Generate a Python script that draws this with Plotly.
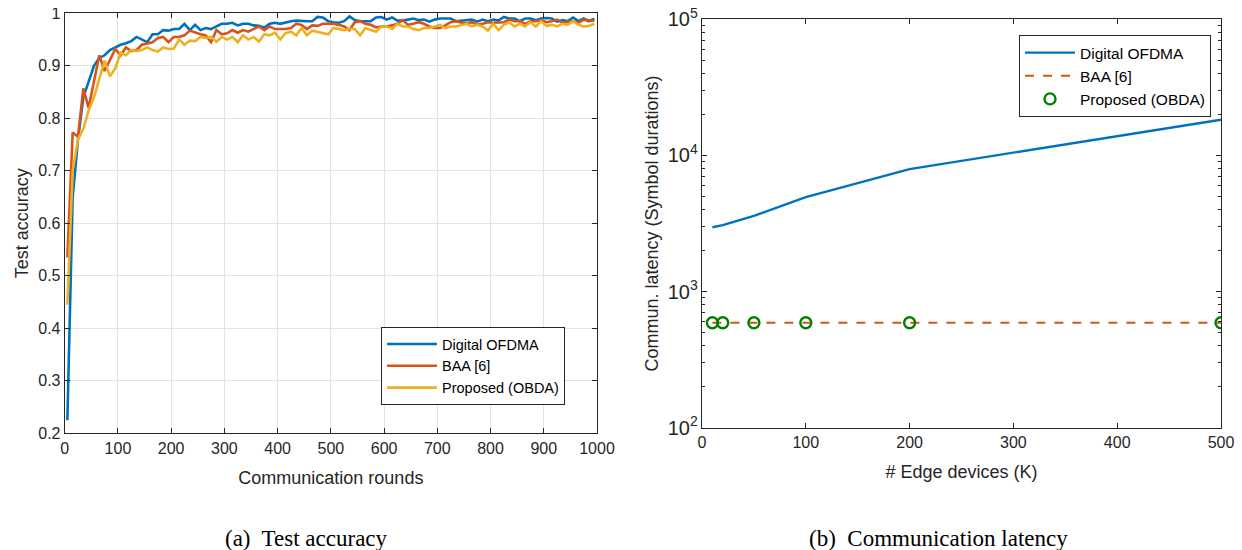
import plotly.graph_objects as go

rounds = list(range(5, 1000, 10))

acc_digital = [0.225, 0.65, 0.76, 0.84, 0.87, 0.90, 0.915, 0.92, 0.93, 0.935,
               0.94, 0.943, 0.947, 0.955, 0.95, 0.945, 0.96, 0.96, 0.968, 0.967,
               0.97, 0.97, 0.98, 0.968, 0.978, 0.968, 0.972, 0.97, 0.975, 0.98,
               0.98, 0.982, 0.977, 0.98, 0.98, 0.977, 0.976, 0.973, 0.98, 0.982,
               0.98, 0.983, 0.985, 0.986, 0.985, 0.985, 0.985, 0.993, 0.992, 0.985,
               0.983, 0.982, 0.985, 0.994, 0.987, 0.985, 0.985, 0.985, 0.992, 0.993,
               0.988, 0.992, 0.986, 0.986, 0.988, 0.99, 0.987, 0.988, 0.984, 0.988,
               0.99, 0.99, 0.99, 0.985, 0.986, 0.987, 0.988, 0.984, 0.988, 0.985,
               0.988, 0.986, 0.993, 0.99, 0.99, 0.985, 0.99, 0.99, 0.987, 0.99,
               0.991, 0.99, 0.984, 0.987, 0.985, 0.992, 0.985, 0.99, 0.985, 0.99]

acc_baa = [0.535, 0.773, 0.765, 0.857, 0.82, 0.87, 0.92, 0.89, 0.91, 0.932,
           0.92, 0.935, 0.928, 0.93, 0.94, 0.943, 0.945, 0.953, 0.955, 0.945,
           0.955, 0.955, 0.958, 0.967, 0.963, 0.96, 0.958, 0.945, 0.968, 0.96,
           0.962, 0.968, 0.963, 0.968, 0.965, 0.97, 0.975, 0.968, 0.975, 0.97,
           0.97, 0.97, 0.972, 0.98, 0.978, 0.97, 0.977, 0.976, 0.98, 0.98,
           0.98, 0.978, 0.975, 0.968, 0.983, 0.985, 0.98, 0.978, 0.973, 0.975,
           0.975, 0.977, 0.98, 0.987, 0.978, 0.98, 0.983, 0.98, 0.975, 0.972,
           0.972, 0.977, 0.983, 0.985, 0.982, 0.98, 0.983, 0.978, 0.98, 0.983,
           0.982, 0.982, 0.983, 0.988, 0.985, 0.985, 0.98, 0.985, 0.985, 0.987,
           0.983, 0.985, 0.988, 0.982, 0.983, 0.985, 0.982, 0.988, 0.986, 0.986]

acc_obda = [0.445, 0.70, 0.76, 0.78, 0.815, 0.84, 0.875, 0.91, 0.88, 0.895,
            0.925, 0.92, 0.93, 0.928, 0.93, 0.935, 0.93, 0.927, 0.935, 0.932,
            0.933, 0.95, 0.94, 0.948, 0.947, 0.955, 0.953, 0.955, 0.946, 0.955,
            0.95, 0.955, 0.945, 0.958, 0.95, 0.955, 0.946, 0.96, 0.958, 0.963,
            0.95, 0.962, 0.965, 0.958, 0.972, 0.958, 0.967, 0.965, 0.963, 0.96,
            0.972, 0.97, 0.968, 0.97, 0.97, 0.958, 0.972, 0.968, 0.965, 0.975,
            0.975, 0.97, 0.98, 0.975, 0.975, 0.97, 0.968, 0.972, 0.972, 0.975,
            0.978, 0.972, 0.975, 0.975, 0.978, 0.98, 0.975, 0.978, 0.975, 0.967,
            0.98, 0.968, 0.978, 0.983, 0.975, 0.98, 0.975, 0.983, 0.975, 0.985,
            0.976, 0.978, 0.975, 0.98, 0.978, 0.985, 0.978, 0.975, 0.976, 0.98]

devices = [10, 20, 50, 100, 200, 500]
lat_digital = [2970, 3080, 3600, 4940, 7940, 18300]
lat_baa = [590, 590, 590, 590, 590, 590]
lat_obda = [590, 590, 590, 590, 590, 590]

C_BLUE = "#0072BD"
C_RED = "#D95319"
C_YEL = "#EDB120"
C_GRN = "#008000"
AX = "#262626"
FONT = "Liberation Sans, Arial, sans-serif"
SERIF = "Liberation Serif, Times New Roman, serif"

# page has an 8px body margin; figure is sized to fit the 1242x550 window
W, H = 1234, 542

def px_x(v):
    return (v - 8) / W

def px_y(v):
    return (H - (v - 8)) / H

fig = go.Figure()

fig.add_trace(go.Scatter(x=rounds, y=acc_digital, mode="lines", name="Digital OFDMA",
                         line=dict(color=C_BLUE, width=2.6), xaxis="x", yaxis="y", legend="legend"))
fig.add_trace(go.Scatter(x=rounds, y=acc_baa, mode="lines", name="BAA [6]",
                         line=dict(color=C_RED, width=2.6), xaxis="x", yaxis="y", legend="legend"))
fig.add_trace(go.Scatter(x=rounds, y=acc_obda, mode="lines", name="Proposed (OBDA)",
                         line=dict(color=C_YEL, width=2.6), xaxis="x", yaxis="y", legend="legend"))

fig.add_trace(go.Scatter(x=devices, y=lat_digital, mode="lines", name="Digital OFDMA",
                         line=dict(color=C_BLUE, width=2.4), xaxis="x2", yaxis="y2", legend="legend2"))
fig.add_trace(go.Scatter(x=devices, y=lat_baa, mode="lines", name="BAA [6]",
                         line=dict(color=C_RED, width=2.2, dash="dash"), xaxis="x2", yaxis="y2", legend="legend2"))
fig.add_trace(go.Scatter(x=devices, y=lat_obda, mode="markers", name="Proposed (OBDA)",
                         marker=dict(symbol="circle-open", size=11, color=C_GRN, line=dict(width=2.4, color=C_GRN)),
                         xaxis="x2", yaxis="y2", legend="legend2"))

common = dict(showline=True, linecolor=AX, linewidth=1, mirror="allticks", ticks="inside",
              tickcolor=AX, ticklen=5, tickfont=dict(family=FONT, size=16, color=AX),
              zeroline=False, automargin=False, ticklabeloverflow="allow")
TFONT = dict(family=FONT, size=18, color=AX)

fig.update_layout(
    width=W, height=H,
    margin=dict(l=0, r=0, t=0, b=0, autoexpand=False),
    paper_bgcolor="white", plot_bgcolor="white",
    font=dict(family=FONT, size=16, color=AX),
    xaxis=dict(domain=[px_x(64.7), px_x(597)], range=[0, 1000], tickvals=list(range(0, 1001, 100)),
               showgrid=True, gridcolor="#e3e3e3", gridwidth=1,
               title=dict(text="Communication rounds", font=TFONT),
               anchor="y", **common),
    yaxis=dict(domain=[px_y(433.3), px_y(13.3)], range=[0.2, 1.0],
               tickvals=[0.2, 0.3, 0.4, 0.5, 0.6, 0.7, 0.8, 0.9, 1.0],
               ticktext=["0.2", "0.3", "0.4", "0.5", "0.6", "0.7", "0.8", "0.9", "1"],
               showgrid=True, gridcolor="#e3e3e3", gridwidth=1,
               title=dict(text="Test accuracy", font=TFONT, standoff=4),
               anchor="x", **common),
    xaxis2=dict(domain=[px_x(702), px_x(1221)], range=[0, 500], tickvals=[0, 100, 200, 300, 400, 500],
                showgrid=False,
                title=dict(text="# Edge devices (K)", font=TFONT),
                anchor="y2", **common),
    yaxis2=dict(domain=[px_y(427.7), px_y(19.3)], type="log", range=[2, 5], dtick=1,
                exponentformat="power", showgrid=False,
                minor=dict(ticks="inside", ticklen=3, tickcolor=AX, showgrid=False),
                title=dict(text="Commun. latency (Symbol durations)", font=TFONT, standoff=4),
                anchor="x2", **common),
    legend=dict(x=px_x(381), y=px_y(327), xanchor="left", yanchor="top",
                bordercolor=AX, borderwidth=1, bgcolor="white",
                font=dict(family=FONT, size=14.5, color="black"), itemwidth=50,
                tracegroupgap=0),
    legend2=dict(x=px_x(1019), y=px_y(35), xanchor="left", yanchor="top",
                 bordercolor=AX, borderwidth=1, bgcolor="white",
                 font=dict(family=FONT, size=15.5, color="black"), itemwidth=50,
                 tracegroupgap=0),
    showlegend=True,
)

fig.add_annotation(text="(a)  Test accuracy", xref="paper", yref="paper", x=px_x(306), y=px_y(538),
                   xanchor="center", yanchor="middle",
                   showarrow=False, font=dict(family=SERIF, size=23, color="black"))
fig.add_annotation(text="(b)  Communication latency", xref="paper", yref="paper", x=px_x(938), y=px_y(538),
                   xanchor="center", yanchor="middle",
                   showarrow=False, font=dict(family=SERIF, size=23, color="black"))

fig.write_html("out.html")
